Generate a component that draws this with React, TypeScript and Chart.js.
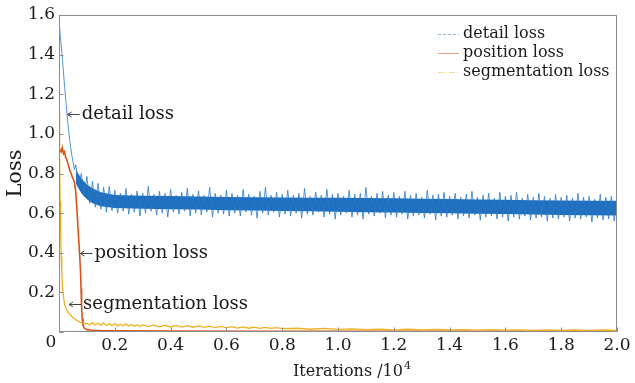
import React, { useEffect, useRef } from 'react';
import { Chart, registerables } from 'chart.js';

Chart.register(...registerables);

const SERIF = '"DejaVu Serif", "Liberation Serif", serif';
const INK = '#1a1a1a';
const FRAME = '#8c8c8c';

const seriesNames = ['detail loss', 'position loss', 'segmentation loss'];
const seriesColors = ['#1f6fbe', '#d95319', '#edb120'];

const xTicks = [0, 0.2, 0.4, 0.6, 0.8, 1.0, 1.2, 1.4, 1.6, 1.8, 2.0];
const xTickLabels = ['', '0.2', '0.4', '0.6', '0.8', '1.0', '1.2', '1.4', '1.6', '1.8', '2.0'];
const yTicks = [0, 0.2, 0.4, 0.6, 0.8, 1.0, 1.2, 1.4, 1.6];
const yTickLabels = ['', '0.2', '0.4', '0.6', '0.8', '1.0', '1.2', '1.4', '1.6'];
const cornerLabel = '0';
const xTitle = 'Iterations /10';
const xTitleExp = '4';
const yTitle = 'Loss';

// detail loss: steep initial descent
const detailPreIter = [0, 0.005, 0.01, 0.015, 0.02, 0.025, 0.03, 0.035, 0.04, 0.045, 0.05, 0.055];
const detailPreLoss = [1.57, 1.49, 1.41, 1.33, 1.24, 1.16, 1.08, 1.01, 0.95, 0.9, 0.86, 0.82];

// detail loss: dense core of the noisy band
const detailCoreIter = [0.06, 0.08, 0.1, 0.12, 0.15, 0.2, 0.3, 0.4, 0.5, 0.6, 0.7, 0.8, 0.9, 1.0, 1.1, 1.2, 1.3, 1.4, 1.5, 1.6, 1.7, 1.8, 1.9, 2.0];
const detailCoreHigh = [0.82, 0.775, 0.745, 0.725, 0.705, 0.692, 0.688, 0.686, 0.684, 0.682, 0.68, 0.679, 0.678, 0.677, 0.676, 0.675, 0.673, 0.671, 0.669, 0.667, 0.665, 0.664, 0.663, 0.662];
const detailCoreLow = [0.75, 0.7, 0.67, 0.65, 0.635, 0.626, 0.622, 0.62, 0.618, 0.615, 0.613, 0.611, 0.609, 0.607, 0.605, 0.603, 0.601, 0.599, 0.597, 0.595, 0.593, 0.591, 0.589, 0.588];

// detail loss: noise extremes (upper / lower spikes)
const detailBandIter = [
  0.06, 0.08, 0.1, 0.12, 0.14, 0.16, 0.18, 0.2, 0.22, 0.24, 0.26, 0.28, 0.3, 0.32, 0.34, 0.36, 0.38, 0.4,
  0.42, 0.44, 0.46, 0.48, 0.5, 0.52, 0.54, 0.56, 0.58, 0.6, 0.62, 0.64, 0.66, 0.68, 0.7, 0.72, 0.74, 0.76,
  0.78, 0.8, 0.82, 0.84, 0.86, 0.88, 0.9, 0.92, 0.94, 0.96, 0.98, 1.0, 1.02, 1.04, 1.06, 1.08, 1.1, 1.12,
  1.14, 1.16, 1.18, 1.2, 1.22, 1.24, 1.26, 1.28, 1.3, 1.32, 1.34, 1.36, 1.38, 1.4, 1.42, 1.44, 1.46, 1.48,
  1.5, 1.52, 1.54, 1.56, 1.58, 1.6, 1.62, 1.64, 1.66, 1.68, 1.7, 1.72, 1.74, 1.76, 1.78, 1.8, 1.82, 1.84,
  1.86, 1.88, 1.9, 1.92, 1.94, 1.96, 1.98, 2.0,
];
const detailBandHigh = [
  0.845, 0.8, 0.785, 0.76, 0.75, 0.73, 0.735, 0.715,
  0.7, 0.725, 0.695, 0.712, 0.7, 0.735, 0.695, 0.71, 0.7, 0.72,
  0.69, 0.705, 0.725, 0.695, 0.712, 0.69, 0.73, 0.7, 0.69, 0.715,
  0.7, 0.69, 0.72, 0.695, 0.685, 0.71, 0.73, 0.69, 0.705, 0.695,
  0.715, 0.69, 0.7, 0.725, 0.685, 0.705, 0.69, 0.72, 0.695, 0.7,
  0.685, 0.715, 0.695, 0.7, 0.73, 0.685, 0.7, 0.71, 0.69, 0.705,
  0.685, 0.71, 0.69, 0.7, 0.68, 0.715, 0.69, 0.695, 0.705, 0.685,
  0.7, 0.68, 0.695, 0.71, 0.68, 0.69, 0.7, 0.675, 0.705, 0.685,
  0.69, 0.705, 0.675, 0.695, 0.68, 0.7, 0.685, 0.675, 0.695, 0.68,
  0.69, 0.675, 0.7, 0.68, 0.685, 0.67, 0.695, 0.68, 0.685, 0.675,
];
const detailBandLow = [
  0.74, 0.685, 0.65, 0.63, 0.62, 0.605, 0.612, 0.6,
  0.61, 0.595, 0.605, 0.585, 0.6, 0.61, 0.59, 0.6, 0.58, 0.605,
  0.595, 0.61, 0.585, 0.6, 0.59, 0.605, 0.58, 0.6, 0.595, 0.585,
  0.6, 0.585, 0.605, 0.59, 0.575, 0.6, 0.59, 0.605, 0.58, 0.595,
  0.585, 0.6, 0.575, 0.595, 0.59, 0.605, 0.58, 0.595, 0.57, 0.59,
  0.6, 0.58, 0.59, 0.57, 0.595, 0.585, 0.6, 0.575, 0.59, 0.58,
  0.595, 0.57, 0.585, 0.59, 0.575, 0.595, 0.565, 0.585, 0.58, 0.59,
  0.57, 0.585, 0.575, 0.59, 0.565, 0.58, 0.585, 0.57, 0.58, 0.56,
  0.58, 0.57, 0.585, 0.565, 0.575, 0.58, 0.56, 0.575, 0.57, 0.58,
  0.56, 0.575, 0.57, 0.58, 0.555, 0.575, 0.565, 0.57, 0.56, 0.575,
];

// position loss
const positionIter = [
  0, 0.004, 0.008, 0.012, 0.016, 0.02, 0.024, 0.028, 0.032, 0.036, 0.04, 0.044, 0.048, 0.052, 0.056, 0.06, 0.065,
  0.07, 0.074, 0.077, 0.079, 0.081, 0.083, 0.086, 0.09, 0.1, 0.12, 0.15, 0.2, 0.4, 0.7, 1.0, 1.5, 2.0,
];
const positionLoss = [
  0.9, 0.92, 0.91, 0.93, 0.9, 0.91, 0.88, 0.87, 0.85, 0.83, 0.81, 0.8, 0.78, 0.77, 0.75, 0.71, 0.6, 0.48, 0.39,
  0.31, 0.22, 0.13, 0.07, 0.035, 0.02, 0.012, 0.009, 0.007, 0.006, 0.005, 0.004, 0.004, 0.003, 0.003,
];

// segmentation loss
const segmentationIter = [
  0, 0.002, 0.004, 0.006, 0.008, 0.01, 0.013, 0.016, 0.02, 0.025, 0.03, 0.038, 0.045, 0.055, 0.065, 0.075, 0.085,
  0.1, 0.11, 0.12, 0.13, 0.14, 0.15, 0.16, 0.17, 0.18, 0.19, 0.2, 0.21, 0.22, 0.23, 0.24, 0.25, 0.26, 0.27, 0.28,
  0.29, 0.3, 0.32, 0.34, 0.36, 0.38, 0.4, 0.42, 0.44, 0.46, 0.48, 0.5, 0.52, 0.54, 0.56, 0.58, 0.6, 0.62, 0.64,
  0.66, 0.68, 0.7, 0.72, 0.74, 0.76, 0.78, 0.8, 0.85, 0.9, 0.95, 1.0, 1.05, 1.1, 1.15, 1.2, 1.25, 1.3, 1.35, 1.4,
  1.45, 1.5, 1.55, 1.6, 1.65, 1.7, 1.75, 1.8, 1.85, 1.9, 1.95, 2.0,
];
const segmentationLoss = [
  1.12, 0.88, 0.66, 0.5, 0.38, 0.3, 0.22, 0.18, 0.14, 0.12, 0.105, 0.09, 0.08, 0.068, 0.058, 0.05, 0.045,
  0.042, 0.037, 0.047, 0.035, 0.044, 0.034, 0.046, 0.033, 0.041, 0.032, 0.043, 0.031, 0.039, 0.03, 0.041, 0.03, 0.038,
  0.029, 0.037, 0.028, 0.036, 0.027, 0.035, 0.026, 0.034, 0.025, 0.033, 0.025, 0.032, 0.024, 0.031, 0.023, 0.03,
  0.022, 0.028, 0.021, 0.027, 0.02, 0.026, 0.019, 0.025, 0.018, 0.023, 0.018, 0.022, 0.017, 0.019, 0.014, 0.018,
  0.013, 0.016, 0.012, 0.015, 0.011, 0.014, 0.01, 0.013, 0.01, 0.012, 0.009, 0.012, 0.009, 0.011, 0.008, 0.011,
  0.008, 0.01, 0.008, 0.01, 0.008,
];

// in-plot annotations (arrow tip position in data units)
const annotationText = ['detail loss', 'position loss', 'segmentation loss'];
const annotationIter = [0.031, 0.077, 0.036];
const annotationLoss = [1.1, 0.4, 0.14];

const toPoints = (xs: number[], ys: number[]) => xs.map((x, i) => ({ x, y: ys[i] }));

function buildDetailTrace() {
  const pts = toPoints(detailPreIter, detailPreLoss);
  for (let i = 0; i < detailBandIter.length; i++) {
    pts.push({ x: detailBandIter[i], y: detailBandHigh[i] });
    const nx = i < detailBandIter.length - 1 ? (detailBandIter[i] + detailBandIter[i + 1]) / 2 : detailBandIter[i];
    pts.push({ x: nx, y: detailBandLow[i] });
  }
  return pts;
}

const overlayPlugin = {
  id: 'overlay',
  afterDraw(chart: any) {
    const { ctx, chartArea: a, scales } = chart;
    const xs = scales.x;
    const ys = scales.y;
    ctx.save();
    const L = Math.round(a.left) + 0.5;
    const R = Math.round(a.right) - 0.5;
    const T = Math.round(a.top) + 0.5;
    const B = Math.round(a.bottom) - 0.5;
    ctx.strokeStyle = FRAME;
    ctx.lineWidth = 1;
    ctx.setLineDash([]);
    ctx.strokeRect(L, T, R - L, B - T);
    ctx.beginPath();
    yTicks.forEach((v) => {
      const y = Math.round(ys.getPixelForValue(v)) + 0.5;
      ctx.moveTo(L, y);
      ctx.lineTo(L + 4, y);
    });
    xTicks.forEach((v) => {
      const x = Math.round(xs.getPixelForValue(v)) + 0.5;
      ctx.moveTo(x, B);
      ctx.lineTo(x, B - 4);
    });
    ctx.stroke();

    ctx.fillStyle = INK;
    ctx.font = `17px ${SERIF}`;
    ctx.textAlign = 'center';
    ctx.textBaseline = 'middle';
    ctx.fillText(cornerLabel, a.left - 8, a.bottom + 11);

    ctx.font = `16px ${SERIF}`;
    const w1 = ctx.measureText(xTitle).width;
    ctx.font = `11px ${SERIF}`;
    const w2 = ctx.measureText(xTitleExp).width;
    const x0 = 352 - (w1 + w2 + 1) / 2;
    ctx.textAlign = 'left';
    ctx.font = `16px ${SERIF}`;
    ctx.textBaseline = 'alphabetic';
    ctx.fillText(xTitle, x0, 376);
    ctx.font = `11px ${SERIF}`;
    ctx.fillText(xTitleExp, x0 + w1 + 1, 369);

    annotationText.forEach((t, i) => {
      const tx = xs.getPixelForValue(annotationIter[i]);
      const ty = Math.round(ys.getPixelForValue(annotationLoss[i])) + 0.5;
      ctx.strokeStyle = '#444';
      ctx.lineWidth = 1;
      ctx.beginPath();
      ctx.moveTo(tx, ty);
      ctx.lineTo(tx + 12, ty);
      ctx.moveTo(tx + 4, ty - 2.5);
      ctx.lineTo(tx, ty);
      ctx.lineTo(tx + 4, ty + 2.5);
      ctx.stroke();
      ctx.font = `18px ${SERIF}`;
      ctx.textAlign = 'left';
      ctx.textBaseline = 'middle';
      ctx.fillStyle = INK;
      ctx.fillText(t, tx + 14, ty);
    });

    const dashes = [[3, 2], [], [6, 2, 1, 2]];
    const alphaColors = ['rgba(31,111,190,0.5)', 'rgba(217,83,25,0.55)', 'rgba(237,177,32,0.5)'];
    seriesNames.forEach((name, i) => {
      const y = 34 + i * 19;
      ctx.strokeStyle = alphaColors[i];
      ctx.lineWidth = 1;
      ctx.setLineDash(dashes[i]);
      ctx.beginPath();
      ctx.moveTo(438, y + 0.5);
      ctx.lineTo(459, y + 0.5);
      ctx.stroke();
      ctx.setLineDash([]);
      ctx.font = `16px ${SERIF}`;
      ctx.fillStyle = INK;
      ctx.textAlign = 'left';
      ctx.textBaseline = 'middle';
      ctx.fillText(name, 463, y);
    });
    ctx.restore();
  },
};

export default function App() {
  const ref = useRef<HTMLCanvasElement>(null);
  useEffect(() => {
    const canvas = ref.current;
    if (!canvas) return;
    Chart.defaults.font.family = SERIF;
    Chart.defaults.color = INK;
    const chart = new Chart(canvas, {
      type: 'line',
      data: {
        datasets: [
          {
            label: seriesNames[2],
            data: toPoints(segmentationIter, segmentationLoss),
            borderColor: seriesColors[2],
            borderWidth: 1.3,
            pointRadius: 0,
            tension: 0,
            fill: false,
            order: 0,
          },
          {
            label: seriesNames[0],
            data: buildDetailTrace(),
            borderColor: 'rgba(40,120,200,0.8)',
            borderWidth: 1,
            pointRadius: 0,
            tension: 0,
            fill: false,
            order: 1,
          },
          {
            label: seriesNames[1],
            data: toPoints(positionIter, positionLoss),
            borderColor: seriesColors[1],
            borderWidth: 1.6,
            pointRadius: 0,
            tension: 0,
            fill: false,
            order: 5,
          },
          {
            label: 'detail core high',
            data: toPoints(detailCoreIter, detailCoreHigh),
            borderWidth: 0,
            borderColor: 'rgba(0,0,0,0)',
            backgroundColor: seriesColors[0],
            pointRadius: 0,
            tension: 0,
            fill: '+1',
            order: 3,
          },
          {
            label: 'detail core low',
            data: toPoints(detailCoreIter, detailCoreLow),
            borderWidth: 0,
            borderColor: 'rgba(0,0,0,0)',
            pointRadius: 0,
            tension: 0,
            fill: false,
            order: 4,
          },
        ],
      },
      options: {
        responsive: false,
        animation: false,
        events: [],
        layout: { padding: { top: 15, right: 18, left: 0, bottom: 0 } },
        plugins: {
          legend: { display: false },
          tooltip: { enabled: false },
        },
        scales: {
          x: {
            type: 'linear',
            min: 0,
            max: 2,
            afterBuildTicks: (s: any) => {
              s.ticks = xTicks.map((v) => ({ value: v }));
            },
            afterFit: (s: any) => {
              s.height = 51;
            },
            ticks: {
              autoSkip: false,
              maxRotation: 0,
              padding: 3,
              font: { size: 17, family: SERIF },
              color: INK,
              callback: (_v: any, i: number) => xTickLabels[i],
            },
            grid: { display: false, drawTicks: false },
            border: { display: false },
          },
          y: {
            type: 'linear',
            min: 0,
            max: 1.6,
            afterBuildTicks: (s: any) => {
              s.ticks = yTicks.map((v) => ({ value: v }));
            },
            afterFit: (s: any) => {
              s.width = 59;
            },
            ticks: {
              autoSkip: false,
              padding: 4,
              font: { size: 17, family: SERIF },
              color: INK,
              callback: (_v: any, i: number) => yTickLabels[i],
            },
            grid: { display: false, drawTicks: false },
            border: { display: false },
            title: {
              display: true,
              text: yTitle,
              font: { size: 21, family: SERIF },
              color: INK,
              padding: { top: 3, bottom: 0 },
            },
          },
        },
      },
      plugins: [overlayPlugin],
    } as any);
    return () => chart.destroy();
  }, []);
  return (
    <div style={{ position: 'fixed', left: 0, top: 0, width: 635, height: 383, background: '#fff' }}>
      <canvas ref={ref} width={635} height={383} style={{ display: 'block' }} />
    </div>
  );
}
